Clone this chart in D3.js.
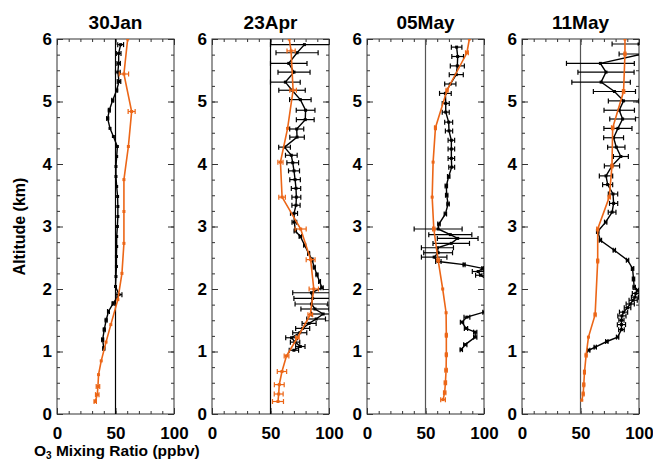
<!DOCTYPE html>
<html>
<head>
<meta charset="utf-8">
<script src="https://cdn.jsdelivr.net/npm/d3@7"></script>
<style>
  body { margin: 0; background: #fff; }
  svg text { font-family: "Liberation Sans", Arial, Helvetica, sans-serif; font-weight: bold; }
</style>
</head>
<body>
<svg id="chart" width="653" height="460"></svg>
<script>
// Paneles (fechas)
const dates = ["30Jan", "23Apr", "05May", "11May"];

// Perfil observado (negro): [altitud km, O3 ppbv, error]
const janObs = [
  [5.91, 54.4, 2.5], [5.77, 52.7, 2], [5.61, 52.7, 1.5], [5.47, 52, 2], [5.32, 53, 1.5],
  [5.18, 51, 0.8], [5.02, 47.6, 0.8], [4.86, 44.7, 0.8], [4.73, 43.3, 0.8], [4.57, 45.3, 0.6],
  [4.44, 48.2, 0.6], [4.28, 51.6, 0.6], [4.12, 51, 0.5], [3.96, 50.4, 0.5], [3.80, 50.4, 0.5],
  [3.64, 51, 0.5], [3.48, 51.8, 0.5], [3.32, 52, 0.5], [3.16, 52, 0.5], [3.0, 51.6, 0.5],
  [2.84, 51, 0.5], [2.68, 51, 0.5], [2.52, 50.8, 0.5], [2.36, 50.8, 0.5], [2.2, 50.4, 0.5],
  [2.04, 50, 0.5], [1.91, 53, 2.5], [1.77, 48, 0.8], [1.64, 44, 0.8], [1.5, 42, 0.8],
  [1.35, 40.4, 0.8], [1.19, 39, 0.8], [1.05, 40, 0.8]
];
const aprObs = [
  [5.91, 79, 29], [5.78, 72.7, 18], [5.61, 65.6, 15.6], [5.47, 70.1, 13.7], [5.31, 62.7, 12.7],
  [5.18, 68.4, 11.3], [5.03, 75.5, 9.2], [4.86, 80, 8], [4.71, 79.7, 7.6], [4.56, 72.4, 6],
  [4.43, 72.7, 6.2], [4.27, 62, 5], [4.14, 67.8, 5], [4.02, 69, 5], [3.89, 70.1, 4.7],
  [3.75, 71, 4.5], [3.61, 71.8, 4], [3.47, 72.1, 3.8], [3.34, 71.8, 3.5], [3.21, 70.1, 3],
  [3.07, 70.4, 2], [2.93, 71.2, 1], [2.84, 75.5, 1], [2.70, 79.2, 0.8], [2.57, 82.6, 0.8],
  [2.47, 85.4, 0.8], [2.35, 87.4, 0.8], [2.23, 89.7, 0.8], [2.12, 91.9, 0.8], [2.02, 94, 1],
  [1.94, 85, 16], [1.85, 86, 16], [1.76, 85, 14], [1.68, 88, 12], [1.60, 95, 10],
  [1.52, 89, 8], [1.45, 83, 6], [1.37, 77.5, 6], [1.30, 75, 6], [1.22, 68, 5],
  [1.15, 71, 4], [1.08, 75.5, 4], [1.02, 70, 4]
];
const mayObs = [
  [5.87, 76.6, 4.5], [5.72, 77.5, 5], [5.57, 77.2, 6], [5.43, 76.3, 6], [5.28, 71.2, 4.8],
  [5.13, 67, 5], [4.97, 67.3, 3], [4.83, 67.3, 3], [4.67, 69.8, 3.4], [4.53, 70.1, 3.1],
  [4.38, 72.1, 2.8], [4.24, 72.1, 2.8], [4.09, 72.1, 2.8], [3.95, 72.4, 2.5], [3.80, 69.8, 1],
  [3.65, 67.8, 1], [3.50, 68.1, 1], [3.36, 69.3, 1], [3.20, 67, 1], [3.04, 61.5, 1],
  [2.96, 60.8, 20.5], [2.87, 71.2, 18.4], [2.81, 77.5, 17.4], [2.73, 72, 15.6], [2.66, 60.2, 13.7],
  [2.58, 60.8, 12.3], [2.51, 57.4, 10.9], [2.44, 61, 2.3], [2.39, 83, 0.8], [2.33, 99, 0.8],
  [2.28, 95, 5], [2.22, 97, 4.2], [2.15, 103, 1], [2.05, 108, 1], [1.91, 110, 1],
  [1.75, 108, 1], [1.63, 100, 1], [1.55, 85.4, 2.5], [1.47, 81.2, 1.4], [1.37, 84.6, 1.4],
  [1.31, 92.5, 1.4], [1.23, 92.5, 1.4], [1.11, 84, 1.4], [1.03, 80.6, 1]
];
const may11Obs = [
  [5.92, 100, 23], [5.76, 103, 20], [5.61, 67, 29], [5.47, 71.8, 24], [5.31, 67.6, 25],
  [5.16, 79, 18], [5.01, 86.8, 13], [4.86, 83.1, 13], [4.72, 86, 11], [4.57, 82, 12],
  [4.42, 78.3, 8.5], [4.27, 80.6, 7.4], [4.12, 84.5, 6.4], [3.97, 76.9, 6.5], [3.81, 71.8, 5.7],
  [3.67, 73.2, 4.3], [3.52, 77.8, 4], [3.37, 78.3, 3.5], [3.23, 77, 3.3], [3.07, 71.5, 1],
  [2.92, 64.7, 1], [2.78, 67, 1], [2.62, 78.9, 1], [2.46, 90.2, 1], [2.33, 94.5, 1],
  [2.16, 95.3, 1], [2.03, 95.9, 1], [1.98, 98.7, 1], [1.93, 97.3, 3], [1.87, 96.5, 3],
  [1.82, 95, 3.5], [1.76, 92.5, 3.5], [1.70, 90.2, 2.8], [1.63, 86.8, 3.5], [1.57, 85.4, 3.5],
  [1.50, 85, 2.2], [1.43, 85, 3.5], [1.35, 85, 2.4], [1.23, 81.7, 1], [1.16, 72.5, 1],
  [1.07, 62.6, 1], [1.02, 57, 1]
];

// Perfil modelado (naranja): [altitud km, O3 ppbv, error]
const janMod = [
  [6.0, 60.4, 0], [5.44, 57.2, 4], [4.84, 63.8, 3], [4.28, 61, 0.5], [3.75, 57.2, 0.5],
  [3.24, 57.2, 0.5], [2.73, 57.2, 0.5], [2.25, 55.5, 0.5], [1.83, 52, 0.5], [1.43, 46, 0.5],
  [1.15, 41.9, 0.5], [0.85, 37.8, 0.5], [0.63, 35.5, 0.5], [0.44, 35, 1.5], [0.31, 34.4, 1.5],
  [0.20, 32.7, 1]
];
const aprMod = [
  [6.0, 66, 0], [5.81, 67.6, 3.5], [5.18, 69.3, 2.8], [4.57, 64.6, 0.5], [4.03, 58.5, 2.2],
  [3.47, 59.9, 2.8], [2.96, 75.8, 4.7], [2.47, 84.3, 3.8], [2.0, 87, 4], [1.59, 84, 2],
  [1.22, 73, 1.5], [0.93, 63.7, 2], [0.68, 59.8, 4], [0.47, 57.5, 4.2], [0.32, 57, 3.8],
  [0.20, 56.4, 4.7]
];
const mayMod = [
  [6.0, 87.5, 0], [5.78, 85.4, 1.2], [5.18, 68.4, 0.8], [4.58, 58.5, 0.8], [4.03, 56.5, 0.5],
  [3.47, 55.7, 0.5], [2.96, 57.1, 1], [2.46, 60.8, 1], [2.0, 64.7, 0.5], [1.62, 67.6, 0.5],
  [1.26, 67.8, 0.8], [0.95, 67.8, 0.8], [0.70, 67.6, 1], [0.50, 67, 1], [0.34, 66.4, 1],
  [0.23, 65, 2]
];
const may11Mod = [
  [6.0, 88, 0], [5.76, 88, 0.8], [5.16, 86.8, 1], [4.58, 77.5, 1], [3.97, 76.9, 0.8],
  [3.47, 74.6, 1], [2.96, 64.7, 0.8], [2.45, 64.7, 0.8], [1.59, 62.5, 0.8], [1.23, 56.8, 0.5],
  [0.94, 54.8, 0.8], [0.67, 53.4, 0.8], [0.47, 52.8, 0.8], [0.32, 52.3, 0.8], [0.22, 51.1, 0.5]
];

const obsSeries = [janObs, aprObs, mayObs, may11Obs];
const modSeries = [janMod, aprMod, mayMod, may11Mod];
const refColor = ["#000", "#000", "#555", "#555"];

const orange = "#ec6617";
const panelW = 117, plotTop = 39, plotBottom = 414, step = 155, firstLeft = 57;
const h = plotBottom - plotTop;

const svg = d3.select("#chart");

const x = d3.scaleLinear().domain([0, 100]).range([0, panelW]);
const y = d3.scaleLinear().domain([0, 6]).range([h, 0]);

const line = d3.line().x(d => x(d[1])).y(d => y(d[0]));

dates.forEach((date, i) => {
  const g = svg.append("g").attr("transform", `translate(${firstLeft + i * step}, ${plotTop})`);

  g.append("clipPath").attr("id", "clip" + i)
    .append("rect").attr("width", panelW).attr("height", h);

  // Título del panel
  g.append("text")
    .attr("x", panelW / 2).attr("y", -10)
    .attr("text-anchor", "middle")
    .attr("font-size", "19px")
    .text(date);

  // Ticks menores y mayores (hacia dentro, en los cuatro lados)
  const minorX = d3.range(0, 101, 10), minorY = d3.range(0, 6.01, 0.25);
  g.append("g").attr("transform", `translate(0,${h})`)
    .call(d3.axisBottom(x).tickValues(minorX).tickSize(-3).tickFormat(""));
  g.append("g")
    .call(d3.axisTop(x).tickValues(minorX).tickSize(-3).tickFormat(""));
  g.append("g")
    .call(d3.axisLeft(y).tickValues(minorY).tickSize(-3).tickFormat(""));
  g.append("g").attr("transform", `translate(${panelW},0)`)
    .call(d3.axisRight(y).tickValues(minorY).tickSize(-3).tickFormat(""));

  const xAxis = g.append("g").attr("transform", `translate(0,${h})`)
    .call(d3.axisBottom(x).tickValues([0, 50, 100]).tickSize(-6).tickPadding(10));
  xAxis.selectAll("text").attr("font-size", "17px").attr("fill", "#000").attr("dy", "0.9em");
  g.append("g").call(d3.axisTop(x).tickValues([0, 50, 100]).tickSize(-6).tickFormat(""));

  const yAxis = g.append("g")
    .call(d3.axisLeft(y).tickValues(d3.range(0, 7)).tickFormat(d3.format("d")).tickSize(-6).tickPadding(5));
  yAxis.selectAll("text").attr("font-size", "17px").attr("fill", "#000");
  g.append("g").attr("transform", `translate(${panelW},0)`)
    .call(d3.axisRight(y).tickValues(d3.range(0, 7)).tickSize(-6).tickFormat(""));

  g.selectAll(".domain").remove();
  g.selectAll(".tick line").attr("stroke", "#333");

  // Marco
  g.append("rect")
    .attr("width", panelW).attr("height", h)
    .attr("fill", "none").attr("stroke", "#333").attr("stroke-width", 1);

  // Línea de referencia en 50 ppbv
  g.append("line")
    .attr("x1", x(50)).attr("x2", x(50)).attr("y1", 0).attr("y2", h)
    .attr("stroke", refColor[i]).attr("stroke-width", 1.2);

  const plot = g.append("g").attr("clip-path", `url(#clip${i})`);

  function drawSeries(data, color, width) {
    const withErr = data.filter(d => d[2] > 0.6);
    plot.selectAll(null).data(withErr).join("line")
      .attr("x1", d => x(d[1] - d[2])).attr("x2", d => x(d[1] + d[2]))
      .attr("y1", d => y(d[0])).attr("y2", d => y(d[0]))
      .attr("stroke", color).attr("stroke-width", 1.2);
    [-1, 1].forEach(s => {
      plot.selectAll(null).data(withErr).join("line")
        .attr("x1", d => x(d[1] + s * d[2])).attr("x2", d => x(d[1] + s * d[2]))
        .attr("y1", d => y(d[0]) - 2.5).attr("y2", d => y(d[0]) + 2.5)
        .attr("stroke", color).attr("stroke-width", 1.2);
    });
    plot.append("path").datum(data)
      .attr("d", line)
      .attr("fill", "none").attr("stroke", color).attr("stroke-width", width);
    plot.selectAll(null).data(data).join("rect")
      .attr("x", d => x(d[1]) - 1.5).attr("y", d => y(d[0]) - 1.5)
      .attr("width", 3).attr("height", 3)
      .attr("fill", color);
  }

  drawSeries(obsSeries[i], "#000", 1.4);
  drawSeries(modSeries[i], orange, 1.6);
});

// Títulos de los ejes
svg.append("text")
  .attr("transform", `translate(25, ${(plotTop + plotBottom) / 2}) rotate(-90)`)
  .attr("text-anchor", "middle")
  .attr("font-size", "16px")
  .text("Altitude (km)");

const xt = svg.append("text")
  .attr("x", 34).attr("y", 456)
  .attr("font-size", "15.5px");
xt.append("tspan").text("O");
xt.append("tspan").attr("font-size", "10px").attr("dy", 3).text("3");
xt.append("tspan").attr("dy", -3).text(" Mixing Ratio (ppbv)");
</script>
</body>
</html>
